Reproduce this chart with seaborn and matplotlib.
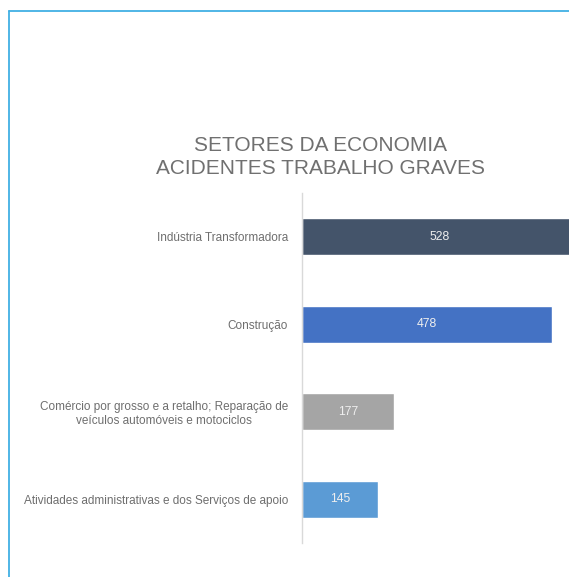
import matplotlib
matplotlib.use("Agg")
import matplotlib.pyplot as plt
from matplotlib.lines import Line2D
import seaborn as sns
import pandas as pd

# Data
setores = [
    "Indústria Transformadora",
    "Construção",
    "Comércio por grosso e a retalho; Reparação de\nveículos automóveis e motociclos",
    "Atividades administrativas e dos Serviços de apoio",
]
acidentes = [528, 478, 177, 145]
cores = ["#44546a", "#4472c4", "#a5a5a5", "#5b9bd5"]
titulo = "SETORES DA ECONOMIA\nACIDENTES TRABALHO GRAVES"

df = pd.DataFrame({"setor": setores, "acidentes": acidentes})

sns.set_theme(style="white")
plt.rcParams["font.family"] = ["Liberation Sans", "DejaVu Sans"]

W, H = 569, 577
fig = plt.figure(figsize=(W / 100, H / 100), dpi=100)

# axes placed in pixel coordinates
x0, x1 = 302, 569
y_top, y_bot = 193, 543
ax = fig.add_axes([x0 / W, 1 - y_bot / H, (x1 - x0) / W, (y_bot - y_top) / H])

sns.barplot(data=df, y="setor", x="acidentes", hue="setor",
            palette=cores, legend=False, width=0.42, ax=ax, saturation=1)

ax.set_xlim(0, (x1 - x0) / 0.522)
ax.set_ylim(3.5, -0.5)
ax.set_xlabel("")
ax.set_ylabel("")
ax.set_xticks([])
for s in ["top", "right", "bottom"]:
    ax.spines[s].set_visible(False)
ax.spines["left"].set_color("#d9d9d9")
ax.spines["left"].set_linewidth(1)
ax.tick_params(axis="y", length=0, pad=10, labelsize=8.5, labelcolor="#6e6e6e")
for lbl in ax.get_yticklabels():
    lbl.set_multialignment("center")
    lbl.set_linespacing(1.25)

# value labels centred on each full bar
for i, v in enumerate(acidentes):
    ax.text(v / 2, i, f"{v}", ha="center", va="center", color="#eeeeee",
            fontsize=8.8, clip_on=False)

fig.text(320 / W, 1 - 157 / H, titulo, ha="center", va="center",
         fontsize=15, color="#707070", linespacing=1.32)

# outer frame lines (top and left)
frame = "#41b0e4"
fig.add_artist(Line2D([8.5 / W, 1.0], [1 - 10.5 / H, 1 - 10.5 / H],
                      transform=fig.transFigure, color=frame, lw=1.3))
fig.add_artist(Line2D([8.5 / W, 8.5 / W], [1 - 10.5 / H, 0],
                      transform=fig.transFigure, color=frame, lw=1.3))

fig.savefig("out.png", dpi=100, facecolor="white")
